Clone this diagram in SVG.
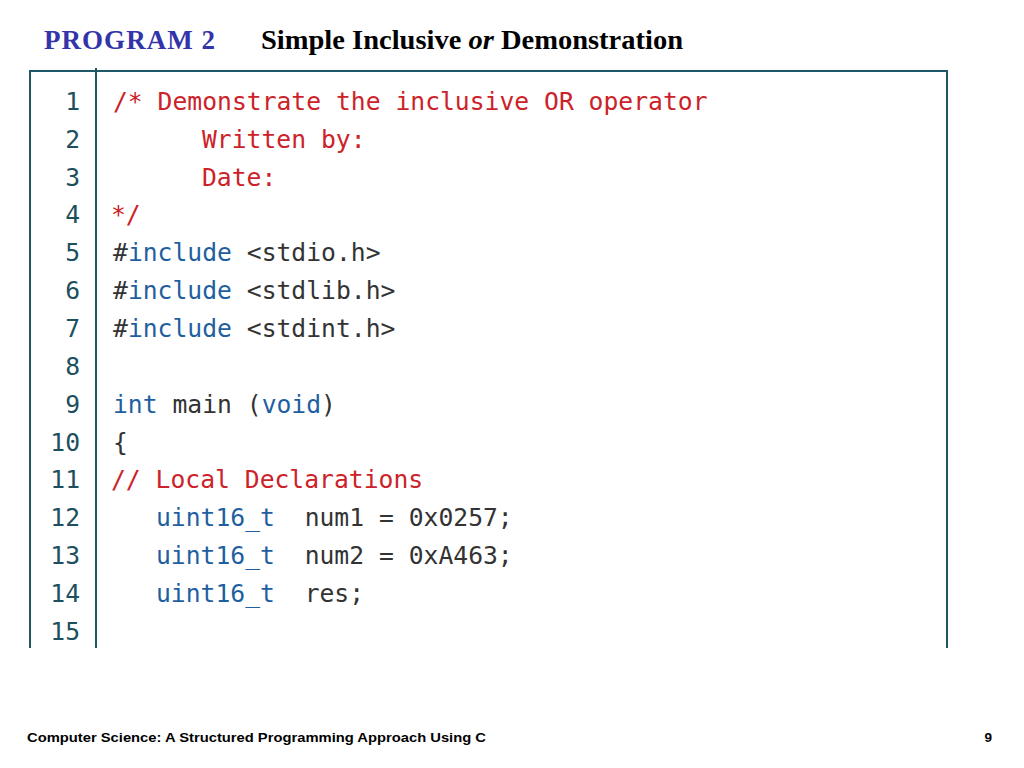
<svg xmlns="http://www.w3.org/2000/svg" width="1024" height="768" viewBox="0 0 1024 768">
<style>
.c{font-family:"DejaVu Sans Mono",monospace;font-size:24.7px;white-space:pre}
.n{fill:#1d4f5e;text-anchor:end}
.r{fill:#cc2229}.b{fill:#1f5fa0}.k{fill:#333}
.fr{stroke:#1d5866;stroke-width:2;fill:none}
</style>
<rect width="1024" height="768" fill="#fff"/>
<g id="title" font-family="Liberation Serif,serif" font-weight="bold" font-size="27">
<text x="44" y="49" fill="#3333aa" textLength="171">PROGRAM 2</text>
<text x="261" y="49" fill="#000" textLength="422" lengthAdjust="spacingAndGlyphs">Simple Inclusive <tspan font-style="italic">or</tspan> Demonstration</text>
</g>
<g id="frame">
<path class="fr" d="M30 648V71H947V648M96 68V648"/>
</g>
<g id="numbers" class="c n">
<text x="80" y="110">1</text><text x="80" y="148">2</text><text x="80" y="186">3</text><text x="80" y="223">4</text><text x="80" y="261">5</text><text x="80" y="299">6</text><text x="80" y="337">7</text><text x="80" y="375">8</text><text x="80" y="413">9</text><text x="80" y="451">10</text><text x="80" y="488">11</text><text x="80" y="526">12</text><text x="80" y="564">13</text><text x="80" y="602">14</text><text x="80" y="640">15</text>
</g>
<g id="code" class="c k">
<text x="113" y="110" class="c r">/* Demonstrate the inclusive OR operator</text>
<text x="202" y="148" class="c r">Written by:</text>
<text x="202" y="186" class="c r">Date:</text>
<text x="111" y="223" class="c r">*/</text>
<text x="113" y="261" class="c k" xml:space="preserve">#<tspan class="b">include</tspan> &lt;stdio.h&gt;</text>
<text x="113" y="299" class="c k" xml:space="preserve">#<tspan class="b">include</tspan> &lt;stdlib.h&gt;</text>
<text x="113" y="337" class="c k" xml:space="preserve">#<tspan class="b">include</tspan> &lt;stdint.h&gt;</text>
<text x="113" y="413" class="c k" xml:space="preserve"><tspan class="b">int</tspan> main (<tspan class="b">void</tspan>)</text>
<text x="113" y="451" class="c k">{</text>
<text x="111" y="488" class="c r">// Local Declarations</text>
<text x="156" y="526" class="c k" xml:space="preserve"><tspan class="b">uint16_t</tspan>  num1 = 0x0257;</text>
<text x="156" y="564" class="c k" xml:space="preserve"><tspan class="b">uint16_t</tspan>  num2 = 0xA463;</text>
<text x="156" y="602" class="c k" xml:space="preserve"><tspan class="b">uint16_t</tspan>  res;</text>
</g>
<g id="footer" font-family="Liberation Sans,sans-serif" font-weight="bold" font-size="13.5" fill="#000">
<text x="27" y="742" textLength="459" lengthAdjust="spacingAndGlyphs">Computer Science: A Structured Programming Approach Using C</text>
<text x="992" y="742" text-anchor="end">9</text>
</g>
</svg>
